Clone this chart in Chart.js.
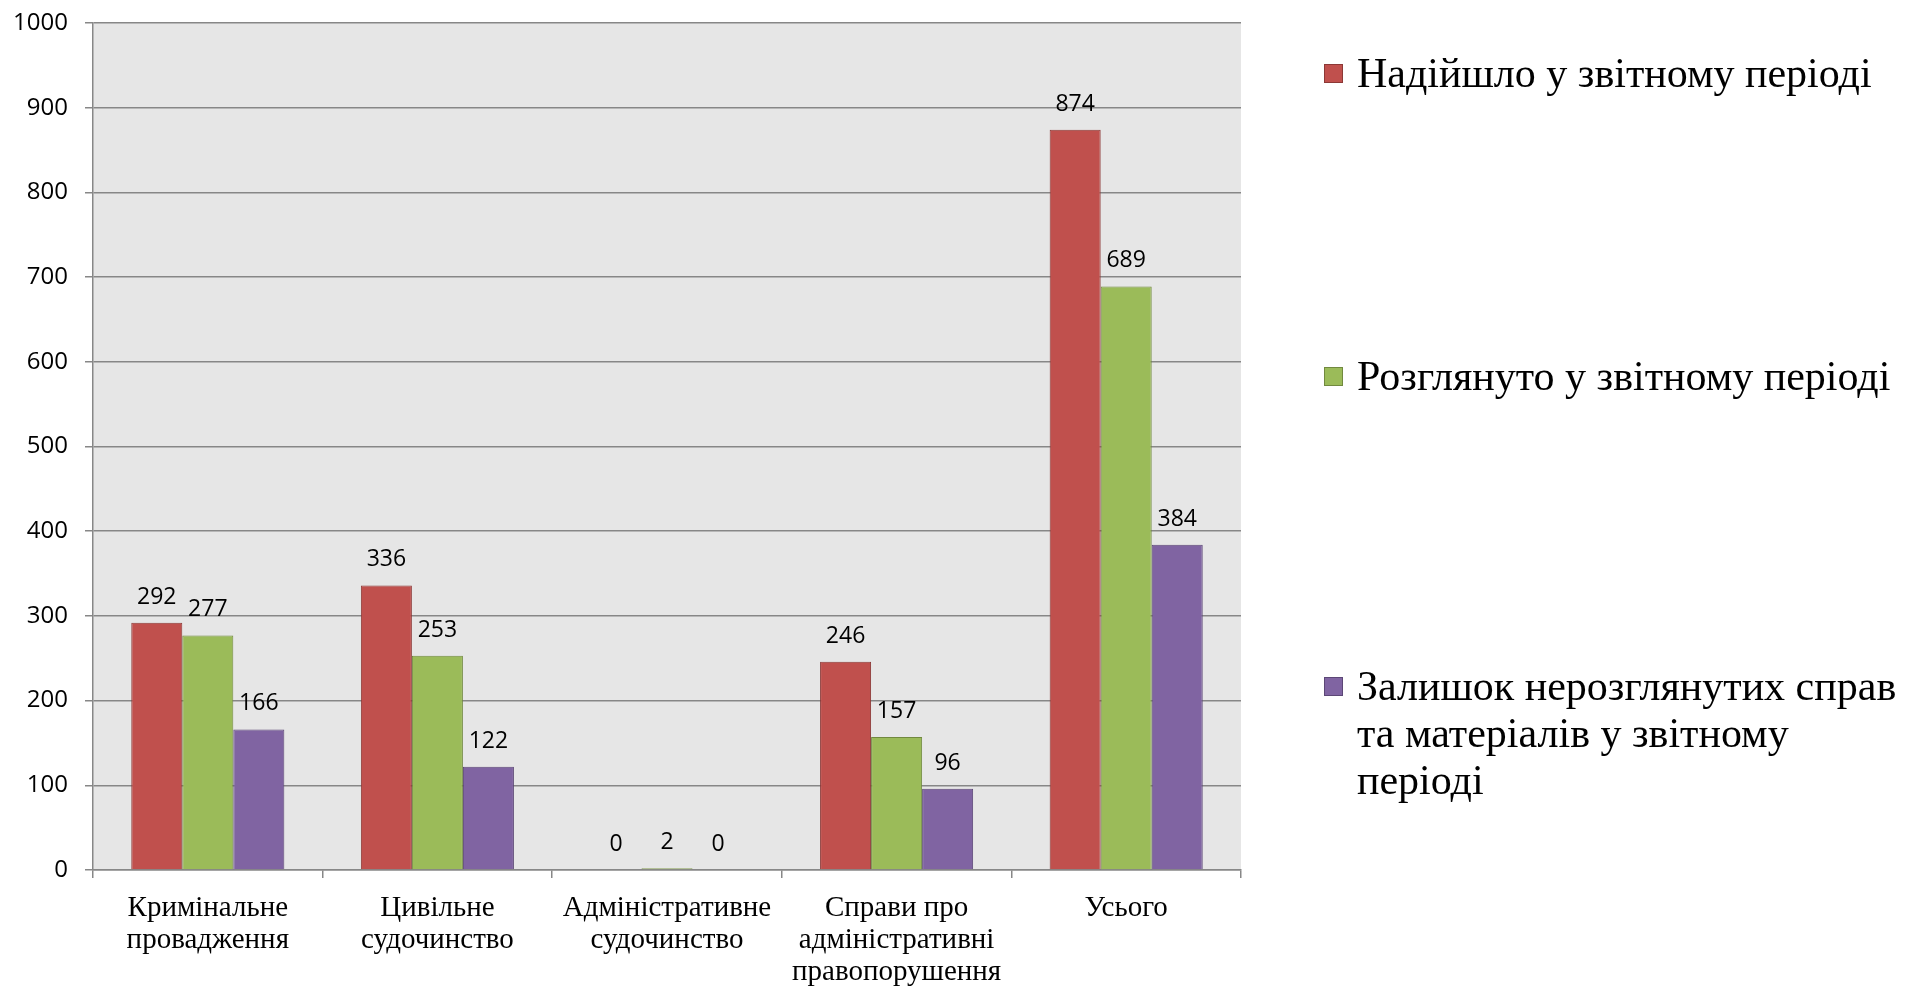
<!DOCTYPE html>
<html lang="uk">
<head>
<meta charset="utf-8">
<title>Звіт</title>
<script src="https://cdn.jsdelivr.net/npm/chart.js@4/dist/chart.umd.min.js"></script>
<style>
    html, body { margin: 0; padding: 0; background: #fff; overflow: hidden; }
    #wrap { position: relative; width: 1908px; height: 988px; }
    #legend { position: absolute; left: 0; top: 0; }
    .legend-item { position: absolute; left: 1324px; font-family: "Liberation Serif", "Times New Roman", serif; font-size: 42px; line-height: 47px; color: #000; white-space: nowrap; }
    .legend-box { position: absolute; left: 0; top: 14px; width: 17px; height: 17px; border: 1px solid; }
    .legend-text { margin-left: 33px; }
</style>
</head>
<body>
<div id="wrap">
    <canvas id="casesChart" width="1908" height="988"></canvas>
    <div id="legend"></div>
</div>
<script>
// Категорії (підписи по осі X)
const categories = [
    ['Кримінальне', 'провадження'],
    ['Цивільне', 'судочинство'],
    ['Адміністративне', 'судочинство'],
    ['Справи про', 'адміністративні', 'правопорушення'],
    ['Усього']
];

// Значення рядів
const receivedValues = [292, 336, 0, 246, 874];
const reviewedValues = [277, 253, 2, 157, 689];
const pendingValues = [166, 122, 0, 96, 384];

// Назви рядів (рядки легенди)
const seriesNames = [
    ['Надійшло у звітному періоді'],
    ['Розглянуто у звітному періоді'],
    ['Залишок нерозглянутих справ', 'та матеріалів у звітному', 'періоді']
];

// Вісь Y
const yMin = 0;
const yMax = 1000;
const yStep = 100;

const fills = ['#C0504D', '#9BBB59', '#8064A2'];
const borders = ['#8C3836', '#71893F', '#5C4776'];
const gridColor = '#878787';

// Сірий фон області побудови
const plotBackground = {
    id: 'plotBackground',
    beforeDraw(chart) {
        const { ctx, chartArea: a } = chart;
        ctx.save();
        ctx.fillStyle = '#E6E6E6';
        ctx.fillRect(a.left, a.top, a.right - a.left, a.bottom - a.top);
        ctx.restore();
    }
};

// Підписи значень над стовпцями
const valueLabels = {
    id: 'valueLabels',
    afterDatasetsDraw(chart) {
        const ctx = chart.ctx;
        ctx.save();
        ctx.font = '23px "Open Sans", sans-serif';
        ctx.fillStyle = '#000';
        ctx.textAlign = 'center';
        ctx.textBaseline = 'alphabetic';
        chart.data.datasets.forEach((ds, i) => {
            chart.getDatasetMeta(i).data.forEach((bar, j) => {
                ctx.fillText(String(ds.data[j]), bar.x, bar.y - 19);
            });
        });
        ctx.restore();
    }
};

// Легенда справа (HTML)
const htmlLegend = {
    id: 'htmlLegend',
    afterUpdate(chart) {
        const box = document.getElementById('legend');
        box.innerHTML = '';
        const tops = [50, 353, 663];
        chart.data.datasets.forEach((ds, i) => {
            const item = document.createElement('div');
            item.className = 'legend-item';
            item.style.top = tops[i] + 'px';
            const sw = document.createElement('span');
            sw.className = 'legend-box';
            sw.style.background = ds.backgroundColor;
            sw.style.borderColor = ds.borderColor;
            const txt = document.createElement('div');
            txt.className = 'legend-text';
            txt.innerHTML = seriesNames[i].join('<br>');
            item.appendChild(sw);
            item.appendChild(txt);
            box.appendChild(item);
        });
    }
};

function makeDataset(i, values) {
    return {
        label: seriesNames[i].join(' '),
        data: values,
        backgroundColor: fills[i],
        borderColor: borders[i],
        borderWidth: 1,
        borderSkipped: 'start',
        categoryPercentage: 3 / 4.5,
        barPercentage: 1
    };
}

const chart = new Chart(document.getElementById('casesChart'), {
    type: 'bar',
    data: {
        labels: categories,
        datasets: [
            makeDataset(0, receivedValues),
            makeDataset(1, reviewedValues),
            makeDataset(2, pendingValues)
        ]
    },
    options: {
        responsive: false,
        animation: false,
        devicePixelRatio: 1,
        layout: { padding: { left: 0, top: 23, right: 667, bottom: 0 } },
        plugins: {
            legend: { display: false },
            tooltip: { enabled: false }
        },
        scales: {
            x: {
                grid: {
                    display: true,
                    drawOnChartArea: false,
                    drawTicks: true,
                    tickLength: 8,
                    color: gridColor,
                    lineWidth: 1.5
                },
                border: { color: gridColor, width: 1.5 },
                ticks: {
                    color: '#000',
                    padding: 15,
                    maxRotation: 0,
                    autoSkip: false,
                    font: { family: '"Liberation Serif", "Times New Roman", serif', size: 29, lineHeight: 1.09 }
                },
                afterFit(s) { s.height = 118; }
            },
            y: {
                min: yMin,
                max: yMax,
                grid: {
                    color: gridColor,
                    lineWidth: 1.5,
                    tickLength: 8
                },
                border: { color: gridColor, width: 1.5 },
                ticks: {
                    stepSize: yStep,
                    color: '#000',
                    padding: 17,
                    callback: (v) => String(v),
                    font: { family: '"Open Sans", sans-serif', size: 24 }
                },
                afterFit(s) {
                    s.width = 93;
                    s.paddingTop = 0;
                    s.paddingBottom = 0;
                }
            }
        }
    },
    plugins: [plotBackground, valueLabels, htmlLegend]
});
</script>
</body>
</html>
